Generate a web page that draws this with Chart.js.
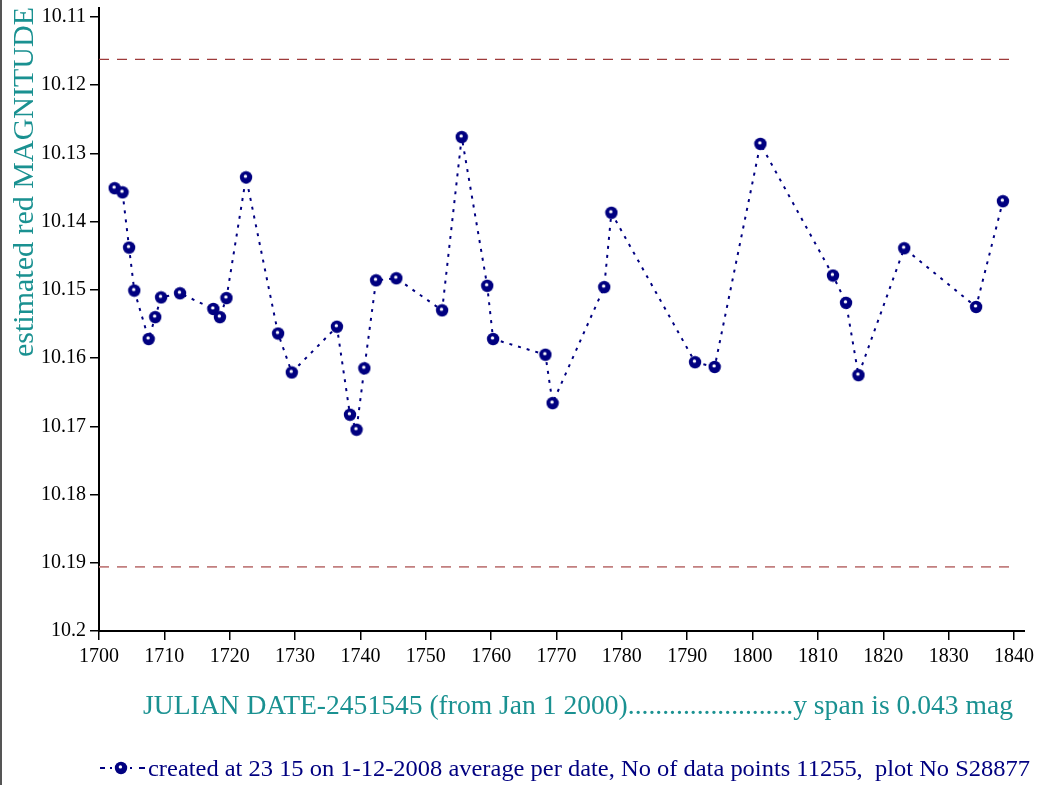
<!DOCTYPE html>
<html>
<head>
<meta charset="utf-8">
<script src="https://cdn.jsdelivr.net/npm/chart.js@4/dist/chart.umd.min.js"></script>
<style>
  html, body { margin: 0; padding: 0; background: #fff; }
  #wrap { width: 1042px; height: 785px; }
</style>
</head>
<body>
<div id="wrap"><canvas id="lightCurve" width="1042" height="785"></canvas></div>
<script>
// Data
const julianDates = [1702.4, 1703.6, 1704.6, 1705.4, 1707.6, 1708.6, 1709.5, 1712.4, 1717.5, 1718.5,
  1719.5, 1722.5, 1727.4, 1729.5, 1736.4, 1738.4, 1739.4, 1740.6, 1742.4, 1745.5,
  1752.5, 1755.5, 1759.4, 1760.3, 1768.3, 1769.4, 1777.3, 1778.4, 1791.2, 1794.2,
  1801.2, 1812.3, 1814.3, 1816.2, 1823.2, 1834.2, 1838.3];
const magnitudes = [10.1351, 10.1357, 10.1438, 10.1501, 10.1572, 10.1540, 10.1511, 10.1505, 10.1528, 10.1540,
  10.1512, 10.1335, 10.1564, 10.1621, 10.1554, 10.1683, 10.1705, 10.1615, 10.1486, 10.1483,
  10.1530, 10.1276, 10.1494, 10.1572, 10.1595, 10.1666, 10.1496, 10.1387, 10.1606, 10.1613,
  10.1286, 10.1479, 10.1519, 10.1625, 10.1439, 10.1525, 10.1370];
const limitDates = [1700, 1840];
const upperLimit = 10.1162;
const lowerLimit = 10.1906;
const xTicks = [1700, 1710, 1720, 1730, 1740, 1750, 1760, 1770, 1780, 1790, 1800, 1810, 1820, 1830, 1840];
const yTicks = [10.11, 10.12, 10.13, 10.14, 10.15, 10.16, 10.17, 10.18, 10.19, 10.2];

const yTitle = "estimated red MAGNITUDE";
const xTitle = "JULIAN DATE-2451545 (from Jan 1 2000)........................y span is 0.043 mag";
const legendText = "created at 23 15 on 1-12-2008 average per date, No of data points 11255,  plot No S28877";

const NAVY = "#000080";
const TEAL = "#1a9191";
const SERIF = '"Liberation Serif", "DejaVu Serif", serif';

// Marker: navy disc with small white highlight
function makeMarker() {
  const c = document.createElement("canvas");
  c.width = 14; c.height = 14;
  const g = c.getContext("2d");
  g.fillStyle = NAVY;
  g.beginPath(); g.arc(7, 7, 6.2, 0, Math.PI * 2); g.fill();
  g.fillStyle = "#fff";
  g.beginPath(); g.arc(6.4, 5.9, 1.7, 0, Math.PI * 2); g.fill();
  return c;
}
const marker = makeMarker();

// Titles, legend and small extras
const decorations = {
  id: "decorations",
  afterDraw(chart) {
    const ctx = chart.ctx;
    const area = chart.chartArea;
    ctx.save();

    // left page border
    ctx.fillStyle = "#555";
    ctx.fillRect(0, 0, 2, 785);

    // axis line overshoot
    ctx.strokeStyle = "#000";
    ctx.lineWidth = 2;
    ctx.beginPath();
    ctx.moveTo(area.left, area.top); ctx.lineTo(area.left, area.top - 10);
    ctx.moveTo(area.right, area.bottom); ctx.lineTo(area.right + 11, area.bottom);
    ctx.stroke();

    // y title
    ctx.save();
    ctx.translate(33, 182);
    ctx.rotate(-Math.PI / 2);
    ctx.font = "30px " + SERIF;
    ctx.fillStyle = TEAL;
    ctx.textAlign = "center";
    ctx.textBaseline = "alphabetic";
    ctx.fillText(yTitle, 0, 0);
    ctx.restore();

    // x title
    ctx.font = "28px " + SERIF;
    ctx.fillStyle = TEAL;
    ctx.textAlign = "left";
    ctx.textBaseline = "alphabetic";
    ctx.fillText(xTitle, 143, 714, 870);

    // legend: dashes with marker
    ctx.strokeStyle = NAVY;
    ctx.lineWidth = 2;
    ctx.beginPath();
    ctx.moveTo(100, 768); ctx.lineTo(105, 768);
    ctx.moveTo(110, 768); ctx.lineTo(112, 768);
    ctx.moveTo(130, 768); ctx.lineTo(132, 768);
    ctx.moveTo(139, 768); ctx.lineTo(145, 768);
    ctx.stroke();
    ctx.drawImage(marker, 121 - 7, 768 - 7);

    // legend text, fitted to the measured width
    ctx.font = "23px " + SERIF;
    ctx.fillStyle = NAVY;
    const w = ctx.measureText(legendText).width;
    const target = 1030 - 148;
    ctx.save();
    ctx.translate(148, 776);
    ctx.scale(target / w, 1);
    ctx.fillText(legendText, 0, 0);
    ctx.restore();

    ctx.restore();
  }
};

const tickFont = { family: SERIF, size: 20 };

new Chart(document.getElementById("lightCurve"), {
  type: "scatter",
  data: {
    datasets: [
      {
        label: "average per date",
        data: julianDates.map((d, i) => ({ x: d, y: magnitudes[i] })),
        showLine: true,
        borderColor: NAVY,
        borderWidth: 2,
        borderDash: [3, 6],
        pointStyle: marker,
        pointRadius: 7,
        backgroundColor: NAVY,
        clip: false
      },
      {
        label: "upper",
        data: limitDates.map(d => ({ x: d, y: upperLimit })),
        showLine: true,
        borderColor: "#9e3b3b",
        borderWidth: 1.3,
        borderDash: [10, 8],
        pointRadius: 0
      },
      {
        label: "lower",
        data: limitDates.map(d => ({ x: d, y: lowerLimit })),
        showLine: true,
        borderColor: "#c27f7f",
        borderWidth: 1.6,
        borderDash: [10, 8],
        pointRadius: 0
      }
    ]
  },
  options: {
    responsive: false,
    animation: false,
    layout: { padding: { top: 17, right: 28, left: 0, bottom: 0 } },
    plugins: {
      legend: { display: false },
      tooltip: { enabled: false }
    },
    scales: {
      x: {
        type: "linear",
        min: 1700,
        max: 1840,
        afterBuildTicks: s => { s.ticks = xTicks.map(v => ({ value: v })); },
        afterFit: s => { s.height = 154; },
        grid: { drawOnChartArea: false, drawTicks: true, tickLength: 9, color: "#000", lineWidth: 1.5 },
        border: { display: true, color: "#000", width: 2 },
        ticks: { color: "#000", font: tickFont, padding: 5, maxRotation: 0, autoSkip: false,
          callback: v => String(v) }
      },
      y: {
        type: "linear",
        reverse: true,
        min: 10.11,
        max: 10.2,
        afterBuildTicks: s => { s.ticks = yTicks.map(v => ({ value: v })); },
        afterFit: s => { s.width = 99; },
        grid: { drawOnChartArea: false, drawTicks: true, tickLength: 9, color: "#000", lineWidth: 1.5 },
        border: { display: true, color: "#000", width: 2 },
        ticks: { color: "#000", font: tickFont, padding: 4, autoSkip: false,
          callback: v => String(parseFloat(v.toFixed(2))) }
      }
    }
  },
  plugins: [decorations]
});
</script>
</body>
</html>
